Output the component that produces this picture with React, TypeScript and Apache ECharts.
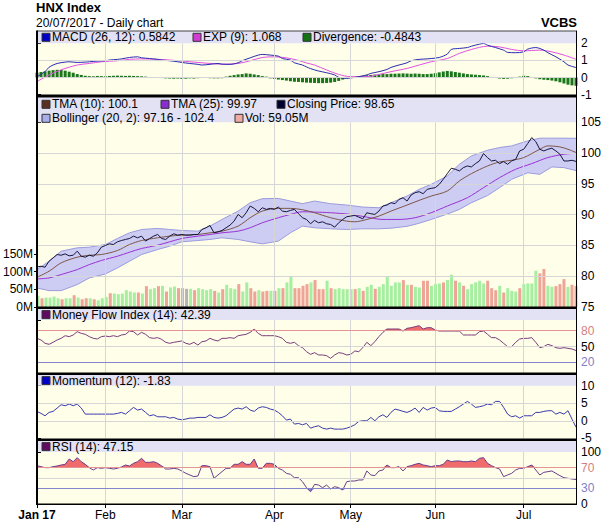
import { useEffect, useRef } from 'react';
import * as echarts from 'echarts';

const FONT = '"Liberation Sans", Arial, Helvetica, sans-serif';

// x positions are trading-day indices (0 = 3 Jan 2017, 134 = 20 Jul 2017)
const monthTickIndex = [0, 17, 36, 59, 78, 99, 121];
const monthTickLabels = ['Jan 17', 'Feb', 'Mar', 'Apr', 'May', 'Jun', 'Jul'];

const macdTicks = [-1, 0, 1, 2];
const priceTicks = [75, 80, 85, 90, 95, 100, 105];
const volTicks = [0, 50, 100, 150];
const mfiTicks = [20, 50, 80];
const momTicks = [-5, 0, 5, 10];
const rsiTicks = [0, 30, 70, 100];

const closePrice = [
  81.51, 81.62, 81.46, 82.44, 82.98, 83.52, 83.41, 83.63, 83.31, 83.41,
  84.07, 83.25, 83.09, 83.41, 83.25, 83.79, 84.72, 84.99, 85.26, 85.15,
  85.59, 85.8, 85.97, 86.13, 86.51, 86.24, 86.51, 85.7, 86.13, 86.51,
  86.78, 86.13, 85.97, 86.51, 86.89, 86.67, 86.78, 86.67, 86.67, 86.78,
  86.78, 87.59, 87.87, 88.25, 87.05, 87.21, 87.43, 87.87, 88.3, 88.95,
  90.04, 89.5, 90.31, 91.4, 91.02, 90.47, 91.12, 90.85, 91.02, 90.85,
  91.23, 90.58, 90.47, 90.69, 90.85, 90.15, 89.5, 89.22, 88.52, 89.06,
  88.68, 88.84, 88.52, 88.41, 87.97, 88.68, 89.22, 89.66, 89.77, 89.88,
  89.6, 89.33, 90.31, 90.15, 90.04, 90.58, 91.4, 91.56, 91.94, 91.78,
  92.48, 92.75, 92.21, 93.19, 93.57, 93.73, 93.4, 94.11, 94.27, 94.38,
  94.92, 95.74, 96.66, 97.53, 97.37, 97.1, 97.64, 97.91, 97.75, 98.29,
  98.72, 99.92, 99.27, 98.72, 98.83, 98.29, 98.62, 98.18, 98.72, 98.99,
  100.35, 100.62, 101.55, 102.52, 101.87, 100.62, 100.35, 100.62, 100.79, 100.35,
  99.81, 98.72, 98.72, 98.83, 98.65,
];

const tma10 = [
  [0, 79.83], [3, 80.81], [6, 82.17], [10, 83.09], [13, 83.41], [16, 83.52], [20, 84.17],
  [23, 85.15], [26, 85.8], [30, 86.24], [33, 86.51], [36, 86.67], [40, 86.78], [43, 87.05],
  [46, 87.32], [50, 88.14], [53, 89.5], [56, 90.58], [60, 91.02], [63, 91.02], [66, 90.8],
  [69, 90.31], [73, 89.5], [77, 88.95], [79, 88.84], [82, 89.22], [85, 89.77], [88, 90.58],
  [92, 91.56], [95, 92.32], [98, 93.02], [102, 93.84], [105, 95.47], [108, 96.66], [112, 97.91],
  [115, 98.56], [118, 98.83], [121, 99.27], [125, 100.62], [127, 101.17], [130, 101.0],
  [132, 100.62], [134, 100.1],
];

const tma25 = [
  [0, 79.56], [3, 79.72], [6, 80.27], [10, 81.08], [13, 81.89], [16, 82.55], [20, 83.25],
  [23, 83.9], [26, 84.5], [30, 85.04], [33, 85.59], [36, 86.13], [40, 86.51], [43, 86.78],
  [46, 87.05], [50, 87.32], [53, 87.87], [56, 88.68], [60, 89.5], [63, 90.04], [66, 90.47],
  [69, 90.42], [73, 90.31], [78, 90.04], [82, 89.6], [86, 89.22], [90, 89.22], [94, 89.5],
  [98, 90.31], [102, 91.4], [107, 92.75], [111, 94.38], [115, 96.01], [119, 97.37],
  [123, 98.29], [127, 99.27], [131, 99.81], [134, 99.97],
];

const bandIndex = [
  0, 3, 6, 10, 13, 17, 20, 23, 26, 30, 33, 36, 40, 43, 46, 50, 53, 56, 60, 63, 66,
  69, 73, 77, 81, 85, 88, 92, 95, 98, 102, 105, 108, 112, 115, 118, 122, 125, 128, 131, 134,
];
const bollUpper = [
  81.08, 82.44, 84.07, 84.61, 84.72, 85.15, 86.13, 87.05, 87.59, 87.76, 87.59, 87.43, 87.32,
  88.14, 89.22, 90.58, 91.94, 92.59, 92.64, 92.21, 91.78, 92.21, 91.78, 91.56, 91.23, 91.12,
  91.94, 93.02, 94.11, 94.92, 96.28, 98.18, 99.54, 100.46, 100.9, 101.17, 101.98, 102.42,
  102.42, 102.42, 102.4,
];
const bollLower = [
  78.09, 77.66, 77.66, 78.64, 79.72, 80.37, 81.35, 82.44, 83.52, 84.34, 84.88, 85.59, 85.8,
  85.97, 86.24, 85.97, 85.59, 85.26, 85.7, 87.05, 88.14, 87.87, 87.7, 87.59, 87.7, 87.7,
  87.8, 88.1, 88.6, 89.22, 90.1, 90.85, 91.94, 93.1, 94.38, 95.74, 96.8, 96.55, 97.75,
  97.64, 97.16,
];

// volume in millions; u = up day, d = down day, n = unchanged
const volume = [
  31.4, 24.8, 26.7, 26.7, 29.5, 24.8, 21.9, 24.8, 24.8, 33.3, 26.7, 21.9, 24.8, 24.8, 21.9,
  19.0, 24.8, 28.6, 39.0, 38.1, 36.2, 38.1, 47.6, 43.8, 40.9, 40.9, 38.1, 59.0, 50.5, 53.3,
  59.0, 60.0, 43.8, 55.2, 58.1, 53.3, 53.3, 51.4, 51.4, 47.6, 53.3, 50.5, 47.6, 50.5, 45.7,
  40.9, 50.5, 62.8, 53.3, 50.5, 64.7, 43.8, 69.5, 53.3, 43.8, 47.6, 43.8, 45.7, 45.7, 45.7,
  53.3, 53.3, 69.5, 85.7, 53.3, 53.3, 60.0, 64.7, 69.5, 76.2, 50.5, 50.5, 74.3, 53.3, 50.5,
  53.3, 50.5, 50.5, 50.5, 50.5, 53.3, 45.7, 57.1, 62.8, 51.4, 57.1, 64.7, 85.7, 60.0, 69.5,
  69.5, 76.2, 62.8, 62.8, 57.1, 55.2, 74.3, 74.3, 60.0, 64.7, 66.6, 69.5, 76.2, 91.4, 74.3,
  69.5, 60.0, 50.5, 64.7, 69.5, 74.3, 66.6, 74.3, 53.3, 47.6, 60.0, 40.9, 53.3, 45.7, 43.8,
  53.3, 64.7, 66.6, 66.6, 102.8, 95.2, 107.6, 60.0, 57.1, 59.0, 64.7, 79.0, 57.1, 62.8, 59.05,
];
const volDir =
  'uduuuuduududdud' +
  'uuuduuuuuududuududuuddnuduuuud' +
  'uduuuduudd' + 'uddududuud' + 'dddudddudu' + 'u' +
  'uuududuudu' + 'uuuuududuu' + 'dduuuduudu' + 'd' +
  'uuuuudddud' + 'uuuduuuudd' + 'uudddudd';

const macdLine = [
  [0, 0.05], [2, 0.34], [3, 0.6], [5, 0.82], [7, 0.9], [8, 0.92], [10, 0.88], [12, 0.9],
  [13, 0.92], [15, 0.96], [17, 0.98], [18, 1.02], [20, 1.06], [21, 1.09], [23, 1.17],
  [25, 1.21], [26, 1.15], [28, 1.11], [30, 1.06], [31, 1.02], [33, 0.98], [35, 0.92],
  [36, 0.88], [38, 0.82], [40, 0.77], [41, 0.73], [43, 0.77], [45, 0.82], [46, 0.78],
  [48, 0.77], [50, 0.86], [51, 0.98], [53, 1.15], [55, 1.31], [56, 1.35], [58, 1.31],
  [60, 1.25], [61, 1.11], [63, 1.02], [64, 0.86], [66, 0.73], [67, 0.62], [68, 0.52],
  [70, 0.38], [72, 0.28], [74, 0.15], [75, 0.01], [77, -0.05], [79, 0.01], [80, 0.05],
  [82, 0.15], [83, 0.24], [85, 0.34], [87, 0.47], [88, 0.59], [90, 0.73], [92, 0.86],
  [93, 0.98], [95, 1.06], [97, 1.09], [98, 1.11], [100, 1.17], [102, 1.37], [103, 1.64],
  [105, 1.7], [107, 1.75], [108, 1.83], [110, 1.95], [111, 1.99], [112, 1.89], [114, 1.75],
  [116, 1.6], [117, 1.47], [119, 1.45], [121, 1.5], [122, 1.66], [124, 1.75], [126, 1.6],
  [127, 1.45], [129, 1.21], [131, 0.92], [132, 0.73], [134, 0.5842],
];
const expSignal = [
  [0, -0.24], [3, 0.15], [6, 0.45], [10, 0.73], [13, 0.82], [16, 0.92], [20, 0.98],
  [23, 1.06], [26, 1.09], [30, 1.06], [33, 1.02], [36, 0.96], [40, 0.88], [43, 0.82],
  [46, 0.78], [50, 0.82], [53, 0.98], [56, 1.17], [59, 1.21], [62, 1.15], [65, 1.0],
  [67, 0.85], [69, 0.73], [72, 0.44], [75, 0.18], [78, 0.05], [82, 0.05], [85, 0.18],
  [88, 0.34], [92, 0.53], [95, 0.73], [98, 0.92], [102, 1.11], [105, 1.41], [108, 1.64],
  [112, 1.83], [115, 1.79], [118, 1.64], [121, 1.56], [125, 1.6], [128, 1.5], [131, 1.31],
  [134, 1.068],
];
const divergence = [
  0.28, 0.32, 0.36, 0.4, 0.43, 0.45, 0.44, 0.4, 0.34, 0.28, 0.2, 0.15, 0.1, 0.08, 0.07,
  0.09, 0.08, 0.07, 0.09, 0.1, 0.11, 0.1, 0.09, 0.1, 0.09, 0.08, 0.07, 0.05, 0.02, 0.0,
  -0.01, -0.02, -0.05, -0.06, -0.07, -0.06, -0.08, -0.07, -0.05, -0.06, -0.04, -0.01, 0.01,
  -0.04, -0.05, -0.05, -0.04, 0.05, 0.1, 0.14, 0.18, 0.2, 0.24, 0.22, 0.18, 0.14, 0.08,
  0.05, -0.05, -0.08, -0.12, -0.15, -0.18, -0.22, -0.25, -0.26, -0.28, -0.3, -0.31, -0.32,
  -0.33, -0.33, -0.32, -0.3, -0.26, -0.2, -0.12, -0.05, 0.0, 0.03, 0.06, 0.1, 0.13, 0.15,
  0.17, 0.18, 0.2, 0.2, 0.22, 0.22, 0.23, 0.24, 0.23, 0.22, 0.23, 0.22, 0.2, 0.2, 0.22,
  0.25, 0.3, 0.35, 0.38, 0.36, 0.32, 0.28, 0.24, 0.2, 0.18, 0.16, 0.14, 0.12, 0.08, 0.03,
  -0.02, -0.06, -0.08, -0.07, -0.05, -0.02, 0.05, 0.1, 0.08, 0.03, -0.05, -0.1, -0.13,
  -0.15, -0.18, -0.22, -0.28, -0.35, -0.42, -0.46, -0.4843,
];

const mfi = [
  65.4, 62.3, 56.0, 54.1, 57.9, 62.3, 65.4, 70.4, 68.6, 71.7,
  78.0, 74.8, 73.0, 68.6, 65.4, 64.2, 68.6, 69.8, 68.6, 70.4,
  68.6, 71.7, 73.0, 79.2, 78.0, 71.7, 76.7, 73.0, 66.7, 65.4,
  66.7, 63.5, 57.9, 56.0, 57.9, 59.1, 60.4, 56.0, 54.1, 57.9,
  52.8, 59.1, 60.4, 65.4, 62.3, 60.4, 65.4, 65.4, 66.7, 65.4,
  70.4, 71.7, 73.0, 76.7, 82.4, 74.8, 70.4, 70.4, 70.4, 70.4,
  68.6, 65.4, 57.9, 56.0, 57.9, 51.6, 47.8, 40.3, 35.2, 38.4,
  34.0, 34.0, 32.7, 27.7, 34.0, 38.4, 37.1, 34.0, 35.2, 41.5,
  40.3, 47.8, 57.9, 51.6, 59.1, 68.6, 76.7, 83.0, 83.0, 83.0,
  83.0, 79.2, 84.3, 85.5, 87.4, 89.3, 83.0, 85.5, 85.5, 81.1,
  79.2, 79.2, 79.2, 79.2, 79.2, 79.2, 71.7, 71.7, 71.7, 71.7,
  78.0, 79.2, 73.0, 66.7, 66.7, 62.3, 56.0, 49.7, 49.7, 57.9,
  64.2, 65.4, 65.4, 66.7, 57.9, 47.8, 49.7, 54.1, 51.6, 47.8,
  46.5, 47.8, 46.5, 45.3, 42.39,
];

const momentum = [
  2.67, 2.1, 1.43, 2.38, 2.67, 3.62, 4.57, 4.29, 4.76, 4.29,
  4.76, 3.62, 1.9, 1.9, 1.9, 1.9, 1.9, 1.9, 1.9, 1.9,
  2.1, 2.38, 1.9, 2.86, 3.81, 3.05, 3.33, 2.38, 1.43, 1.71,
  1.14, 1.14, 1.14, 0.76, 0.95, 0.48, 0.29, 0.48, 0.76, 0.76,
  0.95, 0.95, 0.95, 1.71, 0.95, 0.76, 0.95, 1.43, 2.38, 3.33,
  3.62, 3.33, 4.0, 3.05, 2.67, 3.62, 4.0, 3.81, 3.33, 3.05,
  2.38, 1.43, 0.19, 0.48, -0.95, -0.76, -1.14, -0.76, -2.1, -1.71,
  -1.43, -2.1, -2.38, -2.1, -2.38, -2.38, -2.38, -2.1, -1.71, -1.14,
  -0.19, 0.0, 0.0, 0.95, 0.0, 1.14, 1.71, 0.95, 2.38, 3.33,
  3.05, 2.67, 2.38, 2.86, 3.62, 2.38, 3.81, 3.05, 3.62, 3.81,
  2.86, 2.67, 2.67, 2.67, 3.33, 4.0, 4.76, 5.52, 4.76, 3.81,
  4.0, 4.29, 4.76, 4.57, 5.52, 5.52, 3.81, 1.9, 1.14, 1.43,
  0.76, 1.43, 1.43, 1.43, 2.38, 2.38, 2.67, 2.86, 2.86, 1.9,
  2.38, 1.9, 2.86, 0.48, -1.83,
];

const rsi = [
  73.7, 71.8, 69.9, 69.9, 71.8, 73.1, 75.0, 76.3, 86.5, 81.4,
  89.1, 81.4, 76.3, 69.9, 65.4, 69.9, 68.6, 69.9, 68.6, 67.3,
  68.6, 71.2, 75.0, 73.1, 78.2, 81.4, 87.8, 80.1, 80.1, 81.4,
  78.2, 73.1, 67.3, 67.3, 68.6, 67.3, 63.5, 59.0, 55.8, 52.6,
  53.8, 73.7, 73.7, 71.8, 49.4, 55.8, 62.2, 68.6, 68.6, 76.3,
  76.3, 81.4, 76.3, 76.3, 86.5, 68.6, 68.6, 78.2, 78.2, 76.3,
  68.6, 65.4, 59.0, 57.1, 50.6, 50.6, 42.9, 31.4, 23.7, 37.8,
  36.5, 31.4, 36.5, 28.8, 33.3, 31.4, 26.9, 42.9, 44.2, 44.2,
  46.2, 46.2, 63.5, 55.8, 54.5, 63.5, 65.4, 75.0, 69.9, 69.9,
  71.8, 63.5, 71.8, 73.7, 76.3, 78.2, 75.0, 73.7, 71.8, 73.7,
  73.7, 76.3, 84.6, 81.4, 82.7, 82.7, 81.4, 81.4, 82.7, 81.4,
  87.8, 89.1, 78.2, 73.7, 69.9, 67.3, 52.6, 55.8, 59.0, 65.4,
  68.6, 68.6, 71.8, 75.0, 65.4, 55.8, 60.9, 62.2, 63.5, 59.0,
  54.5, 50.6, 49.4, 48.1, 47.15,
];

// ---------- styling ----------
const PLOT_BG = '#fefee9';
const BAND_BG = '#e2e2f4';
const GRID_C = '#d6d6d6';
const RED_LINE = '#e39494';
const BLUE_LINE = '#8585cc';
const DIR_COLOR: Record<string, string> = { u: '#a6efa0', d: '#eea496', n: '#b4b4b4' };

const GL = 37;
const GR = 36;
const grids = [
  { top: 43.3, height: 51.3 }, // MACD
  { top: 122.3, height: 184.7 }, // price
  { top: 254, height: 53 }, // volume
  { top: 320, height: 53 }, // MFI
  { top: 385.7, height: 52.6 }, // momentum
  { top: 452, height: 52 }, // RSI
];

const yCfg = [
  { min: -1, max: 2, labels: macdTicks, ticks: macdTicks, pos: 'right' },
  { min: 75, max: 105, labels: priceTicks, ticks: priceTicks, pos: 'right' },
  { min: 0, max: 150, labels: volTicks, ticks: volTicks, pos: 'left' },
  { min: 0, max: 100, labels: mfiTicks, ticks: [...mfiTicks, 100], pos: 'right' },
  { min: -5, max: 10, labels: momTicks, ticks: momTicks, pos: 'right' },
  { min: 0, max: 100, labels: rsiTicks, ticks: rsiTicks, pos: 'right' },
];

const pairs = (a: number[]) => a.map((v, i) => [i, v]);

function gridLineSeries(k: number, h: { v: number; c?: string }[]) {
  return {
    type: 'line',
    xAxisIndex: k,
    yAxisIndex: k,
    data: [],
    z: 1,
    silent: true,
    markLine: {
      silent: true,
      animation: false,
      symbol: ['none', 'none'],
      label: { show: false },
      emphasis: { disabled: true },
      lineStyle: { color: GRID_C, width: 1, type: 'solid' },
      data: [
        ...monthTickIndex.slice(1).map((x) => ({ xAxis: x })),
        ...h.map((o) => ({ yAxis: o.v, lineStyle: { color: o.c || GRID_C, width: 1, type: 'solid' } })),
      ],
    },
  };
}

function line(k: number, data: any[], color: string, z: number, smooth: number | boolean = false) {
  return {
    type: 'line',
    xAxisIndex: k,
    yAxisIndex: k,
    data,
    symbol: 'none',
    smooth,
    z,
    silent: true,
    lineStyle: { color, width: 1 },
  };
}

function legendItems(y: number, items: { x: number; color: string; text: string }[]) {
  const out: any[] = [];
  items.forEach((it) => {
    out.push({
      type: 'rect',
      z: 101,
      shape: { x: it.x, y: y - 4, width: 8, height: 8 },
      style: { fill: it.color, stroke: '#333', lineWidth: 1 },
    });
    out.push({
      type: 'text',
      z: 101,
      x: it.x + 10,
      y,
      style: {
        text: it.text,
        font: `12px ${FONT}`,
        fill: '#000',
        align: 'left',
        verticalAlign: 'middle',
        textAlign: 'left',
        textVerticalAlign: 'middle',
      },
    });
  });
  return out;
}

function rect(x: number, y: number, w: number, h: number, fill: string, z = 100) {
  return { type: 'rect', z, silent: true, shape: { x, y, width: w, height: h }, style: { fill } };
}

function buildOption(): any {
  const W = 612 - GL - GR;
  const graphic: any[] = [
    // legend bands
    rect(GL, 31, W, 12.3, BAND_BG, 99),
    rect(GL, 97.5, W, 24.8, BAND_BG, 99),
    rect(GL, 309, W, 11, BAND_BG, 99),
    rect(GL, 375, W, 10.7, BAND_BG, 99),
    rect(GL, 441, W, 11, BAND_BG, 99),
    // separators & borders
    rect(GL, 30.5, W, 1, '#444'),
    rect(GL, 94.5, W, 3, '#000'),
    rect(GL, 306.5, W, 2.6, '#000'),
    rect(GL, 372.4, W, 2.7, '#000'),
    rect(GL, 438.4, W, 2.7, '#000'),
    rect(GL - 1, 30.5, 2, 474.5, '#000'),
    rect(612 - GR, 30.5, 1, 474, '#000'),
    rect(GL - 1, 503.5, W + 2, 1.5, '#000'),
    // titles
    {
      type: 'text', z: 101, x: 36, y: 7.5,
      style: { text: 'HNX Index', font: `bold 13px ${FONT}`, fill: '#000', align: 'left', verticalAlign: 'middle', textAlign: 'left', textVerticalAlign: 'middle' },
    },
    {
      type: 'text', z: 101, x: 36, y: 22.5,
      style: { text: '20/07/2017 - Daily chart', font: `12px ${FONT}`, fill: '#000', align: 'left', verticalAlign: 'middle', textAlign: 'left', textVerticalAlign: 'middle' },
    },
    {
      type: 'text', z: 101, x: 577, y: 22,
      style: { text: 'VCBS', font: `bold 13px ${FONT}`, fill: '#000', align: 'right', verticalAlign: 'middle', textAlign: 'right', textVerticalAlign: 'middle' },
    },
    ...legendItems(37.3, [
      { x: 42, color: '#0000c8', text: 'MACD (26, 12): 0.5842' },
      { x: 193, color: '#d23cd2', text: 'EXP (9): 1.068' },
      { x: 303, color: '#137313', text: 'Divergence: -0.4843' },
    ]),
    ...legendItems(104.3, [
      { x: 42, color: '#5a3020', text: 'TMA (10): 100.1' },
      { x: 161, color: '#8a2ccf', text: 'TMA (25): 99.97' },
      { x: 277, color: '#000030', text: 'Closing Price: 98.65' },
    ]),
    ...legendItems(118.3, [
      { x: 42, color: '#a7aeea', text: 'Bollinger (20, 2): 97.16 - 102.4' },
      { x: 235, color: '#efaaa2', text: 'Vol: 59.05M' },
    ]),
    ...legendItems(314.6, [{ x: 42, color: '#620a62', text: 'Money Flow Index (14): 42.39' }]),
    ...legendItems(380.6, [{ x: 42, color: '#0000c8', text: 'Momentum (12): -1.83' }]),
    ...legendItems(446.6, [{ x: 42, color: '#620a62', text: 'RSI (14): 47.15' }]),
  ];

  const labelColor = (k: number) => (v: any) => {
    const n = Number(v);
    if (k === 3) return n === 80 ? '#d47f7f' : n === 20 ? '#7f7fc6' : '#000';
    if (k === 5) return n === 70 ? '#d47f7f' : n === 30 ? '#7f7fc6' : '#000';
    return '#000';
  };

  // Bollinger envelope: polygon through upper edge then lower edge (reversed)
  const bandSeries = {
    type: 'custom',
    xAxisIndex: 1,
    yAxisIndex: 1,
    coordinateSystem: 'cartesian2d',
    data: [[bandIndex[0], bollLower[0]]],
    z: 1,
    silent: true,
    clip: true,
    renderItem: (_p: any, api: any) => {
      const up = bandIndex.map((x, j) => api.coord([x, bollUpper[j]]));
      const lo = bandIndex.map((x, j) => api.coord([x, bollLower[j]]));
      return {
        type: 'group',
        children: [
          {
            type: 'polygon',
            shape: { points: [...up, ...lo.slice().reverse()] },
            style: { fill: '#cdcdf4', stroke: 'none' },
          },
          {
            type: 'polyline',
            shape: { points: up },
            style: { fill: 'none', stroke: '#9a9ade', lineWidth: 1 },
          },
          {
            type: 'polyline',
            shape: { points: lo },
            style: { fill: 'none', stroke: '#9a9ade', lineWidth: 1 },
          },
        ],
      };
    },
  };

  const series: any[] = [
    // MACD panel
    gridLineSeries(0, [{ v: 0 }, { v: 1 }]),
    {
      type: 'bar', xAxisIndex: 0, yAxisIndex: 0, data: pairs(divergence), barWidth: 3, z: 2, silent: true,
      itemStyle: { color: '#1b761b' },
    },
    line(0, expSignal, '#e052e0', 3, 0.3),
    line(0, macdLine, '#2a2ab2', 4, 0.3),
    // price panel
    bandSeries,
    gridLineSeries(1, [{ v: 80 }, { v: 85 }, { v: 90 }, { v: 95 }, { v: 100 }]),
    {
      type: 'bar', xAxisIndex: 2, yAxisIndex: 2, barWidth: 3, z: 2, silent: true,
      data: volume.map((v, i) => ({ value: [i, v], itemStyle: { color: DIR_COLOR[volDir[i]] || DIR_COLOR.u } })),
    },
    line(1, tma25, '#9a32d2', 4, 0.3),
    line(1, tma10, '#7c5646', 5, 0.3),
    line(1, pairs(closePrice), '#14143c', 6),
    // MFI panel
    gridLineSeries(3, [{ v: 50 }, { v: 80, c: RED_LINE }, { v: 20, c: BLUE_LINE }]),
    {
      ...line(3, mfi.map((v, i) => [i, Math.max(v, 80)]), '#f07070', 2),
      lineStyle: { width: 0, opacity: 0 },
      areaStyle: { color: '#f06c6c', opacity: 1, origin: 80 },
    },
    line(3, pairs(mfi), '#7a3c7a', 3),
    // Momentum panel
    gridLineSeries(4, [{ v: 0 }, { v: 5 }]),
    line(4, pairs(momentum), '#3a3aaa', 3),
    // RSI panel
    gridLineSeries(5, [{ v: 50 }, { v: 70, c: RED_LINE }, { v: 30, c: BLUE_LINE }]),
    {
      ...line(5, rsi.map((v, i) => [i, Math.max(v, 70)]), '#f07070', 2),
      lineStyle: { width: 0, opacity: 0 },
      areaStyle: { color: '#f06c6c', opacity: 1, origin: 70 },
    },
    {
      ...line(5, rsi.map((v, i) => [i, Math.min(v, 30)]), '#8c8ce0', 2),
      lineStyle: { width: 0, opacity: 0 },
      areaStyle: { color: '#8c8ce0', opacity: 1, origin: 30 },
    },
    line(5, pairs(rsi), '#6a3c8c', 3),
  ];

  return {
    animation: false,
    backgroundColor: '#ffffff',
    textStyle: { fontFamily: FONT },
    grid: grids.map((g, k) => ({
      left: GL, right: GR, top: g.top, height: g.height,
      show: k !== 2, backgroundColor: PLOT_BG, borderWidth: 0,
    })),
    xAxis: grids.map((_, k) => ({
      type: 'value', gridIndex: k, min: 0, max: 134,
      axisLine: { show: false },
      splitLine: { show: false },
      axisTick: k === 5
        ? { show: true, customValues: monthTickIndex, length: 4, lineStyle: { color: '#000' } }
        : { show: false },
      axisLabel: k === 5
        ? {
            show: true,
            customValues: monthTickIndex,
            margin: 5,
            fontSize: 12,
            fontFamily: FONT,
            color: '#000',
            formatter: (v: number) => {
              const j = monthTickIndex.indexOf(Math.round(v));
              if (j < 0) return '';
              return j === 0 ? `{b|${monthTickLabels[0]}}` : monthTickLabels[j];
            },
            rich: { b: { fontWeight: 'bold', fontSize: 12, fontFamily: FONT, color: '#000' } },
          }
        : { show: false },
    })),
    yAxis: yCfg.map((c, k) => ({
      type: 'value', gridIndex: k, min: c.min, max: c.max, position: c.pos,
      axisLine: { show: false },
      splitLine: { show: false },
      axisTick: { show: true, customValues: c.ticks, length: 4, lineStyle: { color: '#000' } },
      axisLabel: {
        show: true,
        customValues: c.labels,
        margin: 5,
        fontSize: 12,
        fontFamily: FONT,
        color: labelColor(k),
        formatter: k === 2 ? (v: number) => `${v}M` : (v: number) => `${v}`,
      },
    })),
    graphic,
    series,
  };
}

export default function App() {
  const ref = useRef<HTMLDivElement>(null);
  useEffect(() => {
    if (!ref.current) return;
    const chart = echarts.init(ref.current, null, { renderer: 'svg' });
    chart.setOption(buildOption());
    return () => chart.dispose();
  }, []);
  return (
    <div
      ref={ref}
      style={{ position: 'fixed', left: 0, top: 0, width: 612, height: 528, background: '#fff' }}
    />
  );
}
